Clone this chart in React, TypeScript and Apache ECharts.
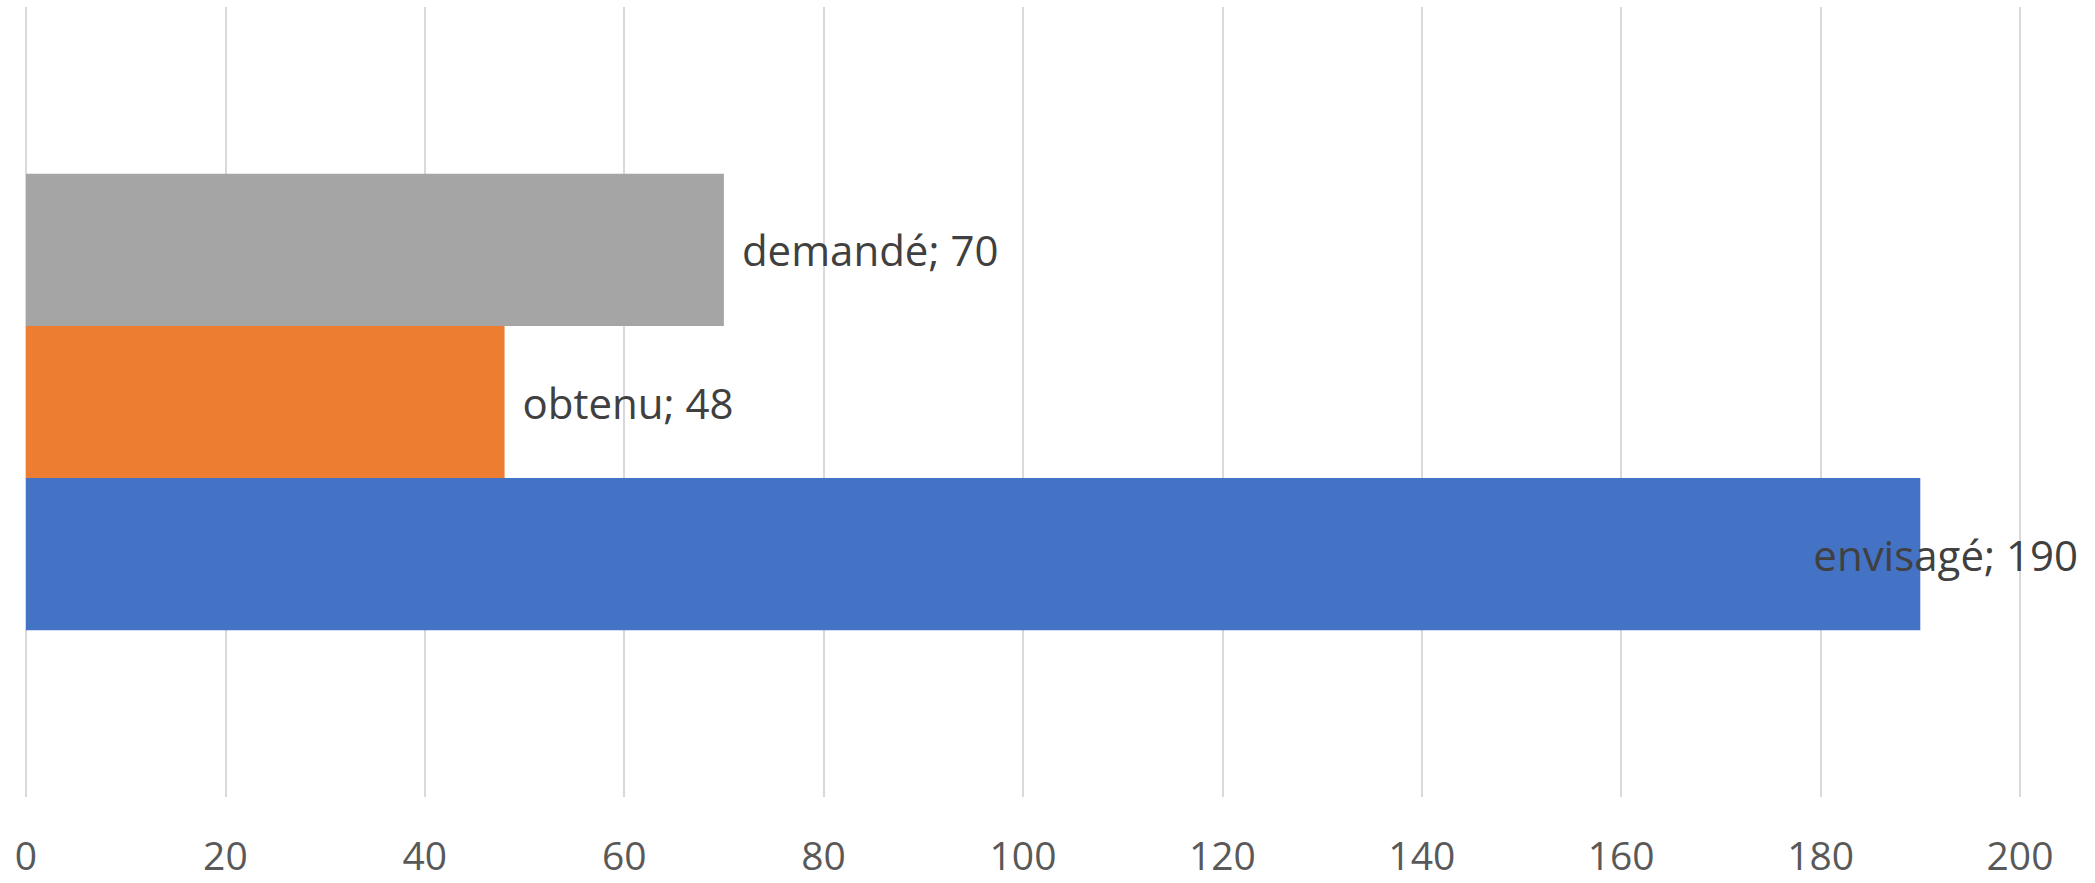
import React, { useEffect, useRef } from "react";
import * as echarts from "echarts";

const categories = [""];
const seriesNames = ["demandé", "obtenu", "envisagé"];
const seriesValues = [70, 48, 190];
const seriesColors = ["#A5A5A5", "#ED7D31", "#4472C4"];
const xTicks = [0, 20, 40, 60, 80, 100, 120, 140, 160, 180, 200];

export default function App() {
  const ref = useRef<HTMLDivElement>(null);
  useEffect(() => {
    if (!ref.current) return;
    const chart = echarts.init(ref.current, null, { renderer: "svg" });
    const font = "'Open Sans', sans-serif";
    chart.setOption({
      animation: false,
      backgroundColor: "#ffffff",
      grid: { left: 26, right: 75, top: 7, bottom: 86, containLabel: false },
      xAxis: {
        type: "value",
        min: xTicks[0],
        max: xTicks[xTicks.length - 1],
        interval: 20,
        axisLine: { show: false },
        axisTick: { show: false },
        splitLine: { show: true, lineStyle: { color: "#d9d9d9", width: 2 } },
        axisLabel: {
          color: "#595959",
          fontFamily: font,
          fontSize: 39,
          margin: 38,
        },
      },
      yAxis: {
        type: "category",
        data: categories,
        axisLine: { show: false },
        axisTick: { show: false },
        axisLabel: { show: false },
      },
      series: seriesNames.map((name, i) => ({
        name,
        type: "bar",
        data: [seriesValues[i]],
        barGap: "0%",
        barCategoryGap: "42.2%",
        itemStyle: { color: seriesColors[i] },
        label: {
          show: true,
          position: "right",
          distance: 18,
          offset: name === "envisagé" ? [-125, 0] : [0, 0],
          formatter: (p: any) => `${p.seriesName}; ${p.value}`,
          color: "#404040",
          fontFamily: font,
          fontSize: 42,
        },
      })),
    });
    return () => chart.dispose();
  }, []);
  return (
    <div
      ref={ref}
      style={{ position: "absolute", left: 0, top: 0, width: 2095, height: 883 }}
    />
  );
}
